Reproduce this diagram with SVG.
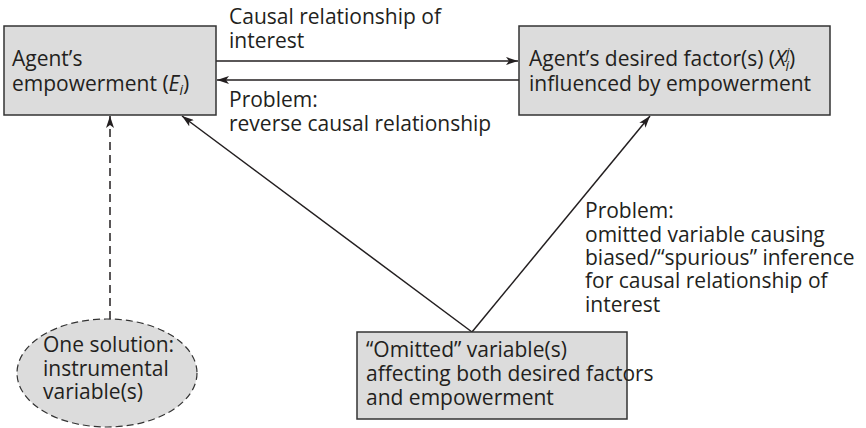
<svg xmlns="http://www.w3.org/2000/svg" width="866" height="428" viewBox="0 0 866 428">
<defs>
<marker id="ah" viewBox="0 0 12 8" refX="12" refY="4" markerWidth="12" markerHeight="8" markerUnits="userSpaceOnUse" orient="auto">
<path d="M0,0 L12,4 L0,8 L3,4 Z" fill="#231f20"/>
</marker>
</defs>
<style>
text{font-family:"Open Sans","Noto Sans","Liberation Sans",sans-serif;font-size:21px;fill:#231f20}
.box{fill:#dcdcdc;stroke:#333;stroke-width:1.5}
.ln{stroke:#231f20;stroke-width:1.5;fill:none}
.it{font-style:italic}
.sm{font-size:14px}
</style>
<rect width="866" height="428" fill="#fff"/>
<g id="connectors">
<line class="ln" x1="216" y1="61" x2="518" y2="61" marker-end="url(#ah)"/>
<line class="ln" x1="519" y1="80" x2="217" y2="80" marker-end="url(#ah)"/>
<line class="ln" x1="472" y1="332" x2="182" y2="116" marker-end="url(#ah)"/>
<line class="ln" x1="472" y1="332" x2="650" y2="116" marker-end="url(#ah)"/>
<line class="ln" x1="110" y1="319" x2="110" y2="116" stroke-dasharray="8,5" marker-end="url(#ah)"/>
</g>
<g id="labels">
<text x="229" y="24">Causal relationship of</text>
<text x="229" y="48">interest</text>
<text x="229" y="107">Problem:</text>
<text x="229" y="131">reverse causal relationship</text>
<text x="585" y="218">Problem:</text>
<text x="585" y="242">omitted variable causing</text>
<text x="585" y="265">biased/“spurious” inference</text>
<text x="585" y="288">for causal relationship of</text>
<text x="585" y="312">interest</text>
</g>
<g id="empowerment">
<rect class="box" x="4" y="26" width="212" height="89"/>
<text x="12" y="66">Agent’s</text>
<text x="12" y="91">empowerment (<tspan class="it">E</tspan><tspan class="it sm" dy="4">i</tspan><tspan dy="-4">)</tspan></text>
</g>
<g id="desired">
<rect class="box" x="519" y="26" width="311" height="89"/>
<text x="529" y="66">Agent’s desired factor(s) (<tspan class="it">X</tspan><tspan class="it sm" dy="-8">j</tspan><tspan class="it sm" dx="-4" dy="13">i</tspan><tspan dy="-5">)</tspan></text>
<text x="529" y="91">influenced by empowerment</text>
</g>
<g id="omitted">
<rect class="box" x="357" y="332" width="270" height="87"/>
<text x="366" y="357">“Omitted” variable(s)</text>
<text x="366" y="381">affecting both desired factors</text>
<text x="366" y="405">and empowerment</text>
</g>
<g id="instrument">
<ellipse cx="107" cy="373" rx="90" ry="54" fill="#dcdcdc" stroke="#333" stroke-width="1.2" stroke-dasharray="7,4"/>
<text x="43" y="352">One solution:</text>
<text x="43" y="376">instrumental</text>
<text x="43" y="399">variable(s)</text>
</g>
</svg>
